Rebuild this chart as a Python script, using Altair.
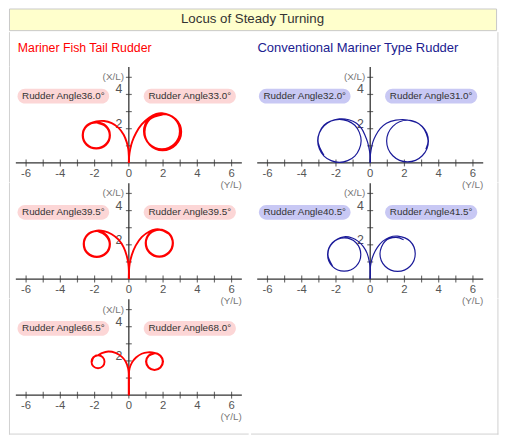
import altair as alt
import pandas as pd

TITLE = "Locus of Steady Turning"
HEADER_LEFT = "Mariner Fish Tail Rudder"
HEADER_RIGHT = "Conventional Mariner Type Rudder"

X_TICKS = [-6, -5, -4, -3, -2, -1, 0, 1, 2, 3, 4, 5, 6]
X_LABEL_AT = [-6, -4, -2, 0, 2, 4, 6]
X_LABELS = ["-6", "-4", "-2", "0", "2", "4", "6"]
Y_TICKS = [1, 2, 3, 4, 5]
Y_LABEL_AT = [2, 4]
Y_LABELS = ["2", "4"]

ANGLES_LEFT = [["36.0", "33.0"], ["39.5", "39.5"], ["66.5", "68.0"]]
ANGLES_RIGHT = [["32.0", "31.0"], ["40.5", "41.5"]]

# ---- Mariner Fish Tail Rudder trajectories (Y/L, X/L) ----
FT1_PORT_X = [0, 0, -0.03, -0.12, -0.3, -0.6, -1.0, -1.45, -1.9,
              -2.47, -2.7, -2.47, -1.9, -1.33, -1.1, -1.33, -1.9,
              -2.45, -2.68, -2.45, -1.9, -1.36, -1.12, -1.36, -1.85]
FT1_PORT_Y = [0, 0.4, 0.8, 1.2, 1.65, 2.05, 2.33, 2.45, 2.42,
              2.18, 1.62, 1.06, 0.84, 1.06, 1.62, 2.16, 2.36,
              2.15, 1.62, 1.08, 0.86, 1.08, 1.62, 2.14, 2.34]
FT1_STBD_X = [0, 0.02, 0.08, 0.2, 0.42, 0.75, 1.2, 1.6, 1.93,
              2.67, 2.98, 2.67, 1.93, 1.19, 0.88, 1.19, 1.95,
              2.7, 3.02, 2.7, 1.95, 1.21, 0.9, 1.21, 1.97,
              2.74, 3.06, 2.74, 1.97, 1.22, 0.92, 1.22, 1.97]
FT1_STBD_Y = [0, 0.4, 0.8, 1.25, 1.75, 2.25, 2.66, 2.86, 2.9,
              2.59, 1.85, 1.11, 0.8, 1.11, 1.85, 2.59, 2.87,
              2.57, 1.83, 1.08, 0.77, 1.08, 1.83, 2.57, 2.85,
              2.56, 1.82, 1.06, 0.74, 1.06, 1.82, 2.55, 2.83]

FT2_PORT_X = [0, 0, -0.03, -0.12, -0.3, -0.6, -1.0, -1.45, -1.87,
              -2.42, -2.64, -2.42, -1.87, -1.32, -1.1, -1.32, -1.87,
              -2.4, -2.62, -2.4, -1.87, -1.34, -1.12, -1.36, -1.8]
FT2_PORT_Y = [0, 0.5, 0.9, 1.35, 1.85, 2.3, 2.62, 2.8, 2.83,
              2.6, 2.05, 1.5, 1.28, 1.5, 2.05, 2.58, 2.8,
              2.58, 2.05, 1.52, 1.3, 1.52, 2.05, 2.56, 2.78]
FT2_STBD_X = [0, 0.01, 0.05, 0.17, 0.4, 0.75, 1.2, 1.55, 1.78,
              2.35, 2.58, 2.35, 1.78, 1.21, 0.98, 1.21, 1.78,
              2.33, 2.56, 2.33, 1.78, 1.23, 1.0, 1.23, 1.78, 2.3]
FT2_STBD_Y = [0, 0.5, 0.9, 1.4, 1.95, 2.45, 2.78, 2.9, 2.9,
              2.67, 2.1, 1.53, 1.3, 1.53, 2.1, 2.67, 2.9,
              2.66, 2.1, 1.55, 1.32, 1.55, 2.1, 2.65, 2.88, 2.67]

FT3_PORT_X = [0, 0, 0, -0.04, -0.18, -0.42, -0.78, -1.2, -1.58, -1.8,
              -2.07, -2.18, -2.07, -1.8, -1.53, -1.42, -1.53, -1.8, -2.06, -2.16]
FT3_PORT_Y = [0, 0.6, 1.2, 1.55, 1.95, 2.25, 2.47, 2.55, 2.45, 2.33,
              2.22, 1.95, 1.68, 1.57, 1.68, 1.95, 2.22, 2.33, 2.21, 1.95]
FT3_STBD_X = [0, 0, 0, 0.04, 0.18, 0.42, 0.75, 1.1, 1.5,
              1.85, 2.0, 1.85, 1.5, 1.15, 1.0, 1.15, 1.5,
              1.84, 1.98, 1.84, 1.5, 1.16, 1.02, 1.16, 1.5]
FT3_STBD_Y = [0, 0.6, 1.2, 1.55, 1.9, 2.2, 2.42, 2.5, 2.47,
              2.31, 1.96, 1.61, 1.46, 1.61, 1.96, 2.31, 2.46,
              2.3, 1.96, 1.62, 1.48, 1.62, 1.96, 2.29, 2.44]

# ---- Conventional Mariner Type Rudder trajectories ----
CM1_PORT_X = [0, 0, -0.05, -0.15, -0.3, -0.5, -0.8, -1.25, -1.8,
              -2.7, -3.07, -2.7, -1.8, -0.9, -0.53, -0.9, -1.8, -2.68, -3.05, -2.7]
CM1_PORT_Y = [0, 0.35, 0.75, 1.2, 1.6, 2.0, 2.32, 2.52, 2.57,
              2.2, 1.3, 0.4, 0.03, 0.4, 1.3, 2.2, 2.55, 2.18, 1.3, 0.45]
CM1_STBD_X = [0, 0, 0.05, 0.15, 0.32, 0.58, 0.95, 1.5, 2.18,
              3.04, 3.4, 3.04, 2.18, 1.32, 0.96, 1.32, 2.18, 3.03, 3.38, 3.25]
CM1_STBD_Y = [0, 0.35, 0.75, 1.2, 1.6, 2.0, 2.32, 2.5, 2.51,
              2.14, 1.28, 0.42, 0.06, 0.42, 1.28, 2.14, 2.5, 2.13, 1.28, 0.8]

CM2_PORT_X = [0, 0, -0.05, -0.18, -0.4, -0.7, -1.05, -1.52,
              -2.21, -2.49, -2.21, -1.52, -0.83, -0.55, -0.83, -1.52, -2.2, -2.47, -2.2]
CM2_PORT_Y = [0, 0.6, 1.0, 1.5, 1.9, 2.2, 2.4, 2.47,
              2.12, 1.43, 0.74, 0.46, 0.74, 1.43, 2.12, 2.4, 2.1, 1.43, 0.76]
CM2_STBD_X = [0, 0, 0.06, 0.2, 0.42, 0.72, 1.1, 1.6,
              2.33, 2.63, 2.33, 1.6, 0.87, 0.57, 0.87, 1.5, 1.95]
CM2_STBD_Y = [0, 0.6, 1.0, 1.45, 1.85, 2.2, 2.43, 2.51,
              2.21, 1.48, 0.75, 0.45, 0.75, 1.48, 2.21, 2.43, 2.3]

# ---- layout / style ----
FONT = "Liberation Sans"
UNIT = 17.4
ROW_H = 117.5
Y_TOP = 5.63
Y_DOM = [Y_TOP - ROW_H / UNIT, Y_TOP]
LAST_H = 138.0
Y_DOM_LAST = [Y_TOP - LAST_H / UNIT, Y_TOP]
LW = 243.6
RW = 251.4
L_DOM = [-7.0, 7.0]
R_DOM = [-121.1 / UNIT, (RW - 121.1) / UNIT]
X_AXIS_END = 6.6
Y_AXIS_TOP = 5.6
PILL_PORT = (-6.5, -1.15)
PILL_STBD = (0.87, 6.25)
PILL_Y = (3.47, 4.33)
AXIS_C = "#333333"
LABEL_C = "#555555"
BORDER_C = "#d0d0d0"
RED = "#ff0000"
BLUE = "#1a1a99"
PINK = "#fcd6d6"
LAVENDER = "#c8c8f4"
TOTAL_W = LW + RW


def vrule(x_px, h):
    return alt.Chart(pd.DataFrame({"a": [0]})).mark_rule(color=BORDER_C).encode(
        x=alt.value(x_px), y=alt.value(0), y2=alt.value(h))


def hrule(y_px, w):
    return alt.Chart(pd.DataFrame({"a": [0]})).mark_rule(color=BORDER_C).encode(
        x=alt.value(0), x2=alt.value(w), y=alt.value(y_px))


def panel(trajs, angles, color, sw, pill_fill, width, xdom, edge_x, ydom=Y_DOM, h=ROW_H, last=False):
    sx = alt.Scale(domain=xdom, nice=False, zero=False)
    sy = alt.Scale(domain=ydom, nice=False, zero=False)

    def X(f):
        return alt.X(f, type="quantitative", scale=sx, axis=None)

    def Y(f):
        return alt.Y(f, type="quantitative", scale=sy, axis=None)

    axes_df = pd.DataFrame({"x": [-X_AXIS_END, 0], "x2": [X_AXIS_END, 0],
                            "y": [0, 0], "y2": [0, Y_AXIS_TOP]})
    axes = alt.Chart(axes_df).mark_rule(color=AXIS_C, strokeWidth=1.3).encode(
        x=X("x"), x2="x2", y=Y("y"), y2="y2")
    xt = alt.Chart(pd.DataFrame({"x": X_TICKS, "y": [0] * len(X_TICKS)})).mark_tick(
        orient="vertical", size=7, thickness=1.2, color=AXIS_C).encode(x=X("x"), y=Y("y"))
    yt = alt.Chart(pd.DataFrame({"x": [0] * len(Y_TICKS), "y": Y_TICKS})).mark_tick(
        orient="horizontal", size=6, thickness=1.2, color=AXIS_C).encode(x=X("x"), y=Y("y"))
    xl = alt.Chart(pd.DataFrame({"x": X_LABEL_AT, "y": [0] * len(X_LABEL_AT), "t": X_LABELS})).mark_text(
        dy=11, baseline="middle", align="center", fontSize=11.5, color=LABEL_C, font=FONT).encode(
        x=X("x"), y=Y("y"), text="t:N")
    yl = alt.Chart(pd.DataFrame({"x": [0] * len(Y_LABEL_AT), "y": Y_LABEL_AT, "t": Y_LABELS})).mark_text(
        dx=-10, dy=-5, baseline="middle", align="center", fontSize=12.5, color=LABEL_C, font=FONT).encode(
        x=X("x"), y=Y("y"), text="t:N")
    xlab = alt.Chart(pd.DataFrame({"x": [0], "y": [5], "t": ["(X/L)"]})).mark_text(
        dx=-5, baseline="middle", align="right", fontSize=10, color="#777777", font=FONT).encode(
        x=X("x"), y=Y("y"), text="t:N")
    ylab = alt.Chart(pd.DataFrame({"x": [X_AXIS_END], "y": [0], "t": ["(Y/L)"]})).mark_text(
        dy=22, baseline="middle", align="right", fontSize=10, color="#777777", font=FONT).encode(
        x=X("x"), y=Y("y"), text="t:N")

    pill_df = pd.DataFrame({
        "x": [PILL_PORT[0], PILL_STBD[0]], "x2": [PILL_PORT[1], PILL_STBD[1]],
        "y": [PILL_Y[0]] * 2, "y2": [PILL_Y[1]] * 2,
        "cx": [(PILL_PORT[0] + PILL_PORT[1]) / 2, (PILL_STBD[0] + PILL_STBD[1]) / 2],
        "cy": [(PILL_Y[0] + PILL_Y[1]) / 2] * 2,
        "t": ["Rudder Angle" + a + "°" for a in angles],
    })
    pills = alt.Chart(pill_df).mark_rect(cornerRadius=7.5, color=pill_fill).encode(
        x=X("x"), x2="x2", y=Y("y"), y2="y2")
    ptxt = alt.Chart(pill_df).mark_text(fontSize=10, color="#333333", font=FONT,
                                        baseline="middle").encode(
        x=X("cx"), y=Y("cy"), text="t:N")

    rows = []
    for k, (xs, ys) in enumerate(trajs):
        for i, (a, b) in enumerate(zip(xs, ys)):
            rows.append({"k": k, "i": i, "x": a, "y": b})
    lines = alt.Chart(pd.DataFrame(rows)).mark_line(
        color=color, strokeWidth=sw, interpolate="catmull-rom").encode(
        x=X("x"), y=Y("y"), detail="k:N", order="i:Q")

    layers = [axes, xt, yt, xl, yl, xlab, ylab, pills, ptxt, lines, vrule(edge_x, h)]
    if last:
        layers.append(hrule(h - 0.5, width))
    return alt.layer(*layers).properties(width=width, height=h)


def header(text, color, width, x_px, edge_x, size, h=35):
    t = alt.Chart(pd.DataFrame({"t": [text]})).mark_text(
        align="left", baseline="middle", fontSize=size, color=color, font=FONT).encode(
        x=alt.value(x_px), y=alt.value(16), text="t:N")
    return alt.layer(t, vrule(edge_x, h)).properties(width=width, height=h)


title = alt.Chart(pd.DataFrame({"t": [TITLE]})).mark_text(
    align="center", baseline="middle", fontSize=13.5, color="#333333", font=FONT).encode(
    x=alt.value(TOTAL_W / 2), y=alt.value(11), text="t:N").properties(
    width=TOTAL_W, height=22, view=alt.ViewBackground(fill="#ffffcc", stroke="#c8c8c8"))

p_l1 = panel([(FT1_PORT_X, FT1_PORT_Y), (FT1_STBD_X, FT1_STBD_Y)], ANGLES_LEFT[0], RED, 1.9, PINK, LW, L_DOM, 0.5)
p_l2 = panel([(FT2_PORT_X, FT2_PORT_Y), (FT2_STBD_X, FT2_STBD_Y)], ANGLES_LEFT[1], RED, 1.9, PINK, LW, L_DOM, 0.5)
p_l3 = panel([(FT3_PORT_X, FT3_PORT_Y), (FT3_STBD_X, FT3_STBD_Y)], ANGLES_LEFT[2], RED, 1.9, PINK, LW, L_DOM, 0.5,
             ydom=Y_DOM_LAST, h=LAST_H, last=True)
p_r1 = panel([(CM1_PORT_X, CM1_PORT_Y), (CM1_STBD_X, CM1_STBD_Y)], ANGLES_RIGHT[0], BLUE, 1.2, LAVENDER, RW, R_DOM, RW - 0.5)
p_r2 = panel([(CM2_PORT_X, CM2_PORT_Y), (CM2_STBD_X, CM2_STBD_Y)], ANGLES_RIGHT[1], BLUE, 1.2, LAVENDER, RW, R_DOM, RW - 0.5)
empty_r = alt.layer(vrule(RW - 0.5, LAST_H), hrule(LAST_H - 0.5, RW)).properties(width=RW, height=LAST_H)

col_left = alt.vconcat(header(HEADER_LEFT, RED, LW, 9, 0.5, 12.5), p_l1, p_l2, p_l3, spacing=0, bounds="flush")
col_right = alt.vconcat(header(HEADER_RIGHT, "#202090", RW, 6.5, RW - 0.5, 13.2), p_r1, p_r2, empty_r,
                        spacing=0, bounds="flush")
body = alt.hconcat(col_left, col_right, spacing=0)

chart = alt.vconcat(title, body, spacing=0).properties(
    padding={"top": -4, "left": 0, "right": 0, "bottom": 0},
    background="white").configure_view(stroke="transparent")

chart.save("out.html", embed_options={"renderer": "svg", "actions": False})
